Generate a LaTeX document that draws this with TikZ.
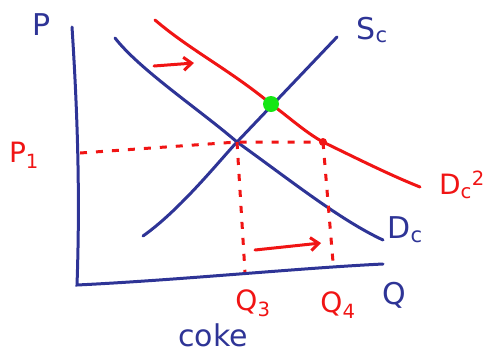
\documentclass[tikz,border=0pt]{standalone}
\usepackage{fontspec}
\setmainfont{DejaVu Sans}
\usetikzlibrary{arrows.meta}
\definecolor{pen}{RGB}{46,52,150}
\definecolor{redpen}{RGB}{240,20,20}
\definecolor{greenpen}{RGB}{20,230,20}
\tikzset{
  blueline/.style={pen, line width=3pt, line cap=round},
  redline/.style={redpen, line width=3pt, line cap=round},
  reddash/.style={redpen, line width=3pt, dash pattern=on 7pt off 9pt},
  redarrow/.style={redpen, line width=3pt, line cap=round, -{Straight Barb[length=8pt,width=13pt,line width=3pt]}},
  bluelab/.style={pen, font=\fontsize{30}{32}\selectfont, inner sep=0pt},
  redlab/.style={redpen, font=\fontsize{28}{30}\selectfont, inner sep=0pt},
}
\begin{document}
\begin{tikzpicture}[x=1pt,y=-1pt]
\useasboundingbox (0,0) rectangle (493,360);
% axes
\coordinate (ytop) at (72,27);
\coordinate (origin) at (77,285);
\coordinate (xend) at (383,264);
\draw[blueline] (ytop) .. controls (78,120) and (80,200) .. (origin) .. controls (180,280) and (300,268) .. (xend);
% demand D_c
\coordinate (d1) at (115,38);
\coordinate (eq) at (237,142);
\coordinate (d2) at (383,240);
\draw[blueline] (d1) .. controls (140,70) and (200,110) .. (eq) .. controls (290,180) and (340,220) .. (d2);
% supply S_c
\coordinate (s1) at (143,236);
\coordinate (s2) at (337,37);
\draw[blueline] (s1) .. controls (180,210) and (220,160) .. (eq) -- (s2);
% new demand D_c^2
\coordinate (n1) at (155,20);
\coordinate (green) at (271,104);
\coordinate (rdot) at (323,142);
\coordinate (n2) at (420,187);
\draw[redline] (n1) .. controls (190,50) and (230,70) .. (green) .. controls (290,118) and (305,132) .. (rdot) .. controls (360,160) and (390,175) .. (n2);
% dashed guides
\coordinate (p1axis) at (80,153);
\coordinate (q3axis) at (245,272);
\coordinate (q4axis) at (333,262);
\draw[reddash] (p1axis) -- (eq) -- (rdot);
\draw[reddash] (eq) -- (q3axis);
\draw[reddash] (rdot) -- (q4axis);
% dots
\fill[greenpen] (green) circle (8pt);
\fill[redpen] (rdot) circle (4pt);
% arrows
\coordinate (a1s) at (154,66);
\coordinate (a1e) at (194,63);
\draw[redarrow] (a1s) -- (a1e);
\coordinate (a2s) at (255,250);
\coordinate (a2e) at (321,243);
\draw[redarrow] (a2s) -- (a2e);
% labels
\node[bluelab] (lP) at (42,25) {P};
\node[redlab] (lP1) at (24,155) {P\textsubscript{1}};
\node[bluelab] (lS) at (372,30) {S\textsubscript{c}};
\node[redlab] (lD2) at (462,185) {D\textsubscript{c}\textsuperscript{2}};
\node[bluelab] (lD) at (405,230) {D\textsubscript{c}};
\node[bluelab] (lQ) at (394,295) {Q};
\node[redlab] (lQ3) at (253,303) {Q\textsubscript{3}};
\node[redlab] (lQ4) at (338,305) {Q\textsubscript{4}};
\node[bluelab] (lcoke) at (213,335) {coke};
\end{tikzpicture}
\end{document}
